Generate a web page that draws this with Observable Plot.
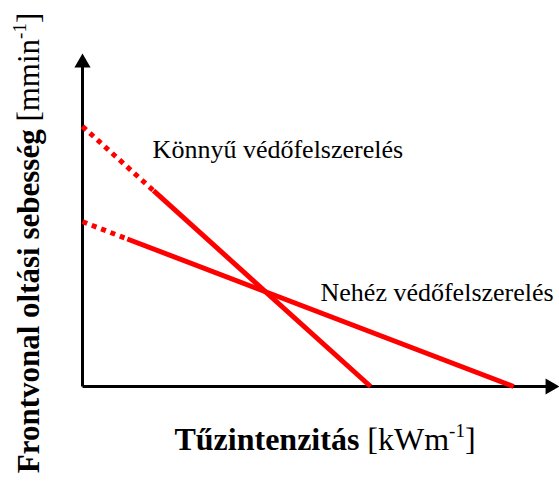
<!DOCTYPE html>
<html>
<head>
<meta charset="utf-8">
<script src="https://cdn.jsdelivr.net/npm/d3@7"></script>
<script src="https://cdn.jsdelivr.net/npm/@observablehq/plot@0.6"></script>
<style>
  html, body { margin: 0; padding: 0; background: #fff; }
</style>
</head>
<body>
<div id="chart"></div>
<script>
// Series: points along each line (x = fire intensity, y = extinguishing rate), arbitrary units
const series = ["Könnyű védőfelszerelés", "Nehéz védőfelszerelés"];
const konnyuX = [0, 14.9, 60.4];
const konnyuY = [78.1, 58.8, 0];
const nehezX = [0, 9.4, 90.4];
const nehezY = [49.5, 44.3, 0];

const xLabelBold = "Tűzintenzitás";
const xLabelUnit = "[kWm";
const yLabelBold = "Frontvonal oltási sebesség";
const yLabelUnit = "[mmin";
const unitExp = "-1";

const toRows = (name, xs, ys) => xs.map((x, i) => ({name, x, y: ys[i]}));
const konnyu = toRows(series[0], konnyuX, konnyuY);
const nehez = toRows(series[1], nehezX, nehezY);

// dashed part = first segment, solid = the rest
const dashed = [konnyu.slice(0, 2), nehez.slice(0, 2)];
const solid = [konnyu.slice(1), nehez.slice(1)];

const serif = "'Liberation Serif', 'Times New Roman', serif";

const plot = Plot.plot({
  width: 559,
  height: 484,
  marginLeft: 82,
  marginRight: 0,
  marginTop: 53,
  marginBottom: 98,
  x: {domain: [0, 100], axis: null},
  y: {domain: [0, 100], axis: null},
  style: {fontFamily: serif, background: "#fff"},
  marks: [
    Plot.link([{x1: 0, y1: 0, x2: 0, y2: 96}], {x1: "x1", y1: "y1", x2: "x2", y2: "y2", stroke: "black", strokeWidth: 3}),
    Plot.link([{x1: 0, y1: 0, x2: 98, y2: 0}], {x1: "x1", y1: "y1", x2: "x2", y2: "y2", stroke: "black", strokeWidth: 3}),
    Plot.dot([{x: 0, y: 100}], {x: "x", y: "y", symbol: "triangle", r: 6, fill: "black", stroke: "none", dy: 9.3}),
    Plot.dot([{x: 100, y: 0}], {x: "x", y: "y", symbol: "triangle", r: 6, fill: "black", stroke: "none", rotate: 90, dx: -9.3}),
    ...dashed.map(d => Plot.line(d, {x: "x", y: "y", stroke: "#ff0000", strokeWidth: 5, strokeDasharray: "5,5", strokeLinecap: "butt"})),
    ...solid.map(d => Plot.line(d, {x: "x", y: "y", stroke: "#ff0000", strokeWidth: 5, strokeLinecap: "butt"})),
    Plot.text([series[0]], {x: 14.7, y: 71.0, text: d => d, textAnchor: "start", lineAnchor: "middle", fontSize: 26, fontFamily: serif, fill: "black"}),
    Plot.text([series[1]], {x: 49.9, y: 28.3, text: d => d, textAnchor: "start", lineAnchor: "middle", fontSize: 26, fontFamily: serif, fill: "black"})
  ]
});

document.getElementById("chart").appendChild(plot);

const svg = d3.select(plot);

// X axis title
const xt = svg.append("text")
  .attr("x", 325).attr("y", 450)
  .attr("text-anchor", "middle")
  .style("font-family", serif)
  .style("font-size", "32px")
  .attr("fill", "black");
xt.append("tspan").style("font-weight", "bold").text(xLabelBold + " ");
xt.append("tspan").text(xLabelUnit);
xt.append("tspan").style("font-size", "19px").attr("dy", -13).text(unitExp);
xt.append("tspan").attr("dy", 13).text("]");

// Y axis title
const yt = svg.append("text")
  .attr("transform", "translate(39,243) rotate(-90)")
  .attr("text-anchor", "middle")
  .style("font-family", serif)
  .style("font-size", "31px")
  .attr("fill", "black");
yt.append("tspan").style("font-weight", "bold").text(yLabelBold + " ");
yt.append("tspan").text(yLabelUnit);
yt.append("tspan").style("font-size", "19px").attr("dy", -13).text(unitExp);
yt.append("tspan").attr("dy", 13).text("]");
</script>
</body>
</html>
